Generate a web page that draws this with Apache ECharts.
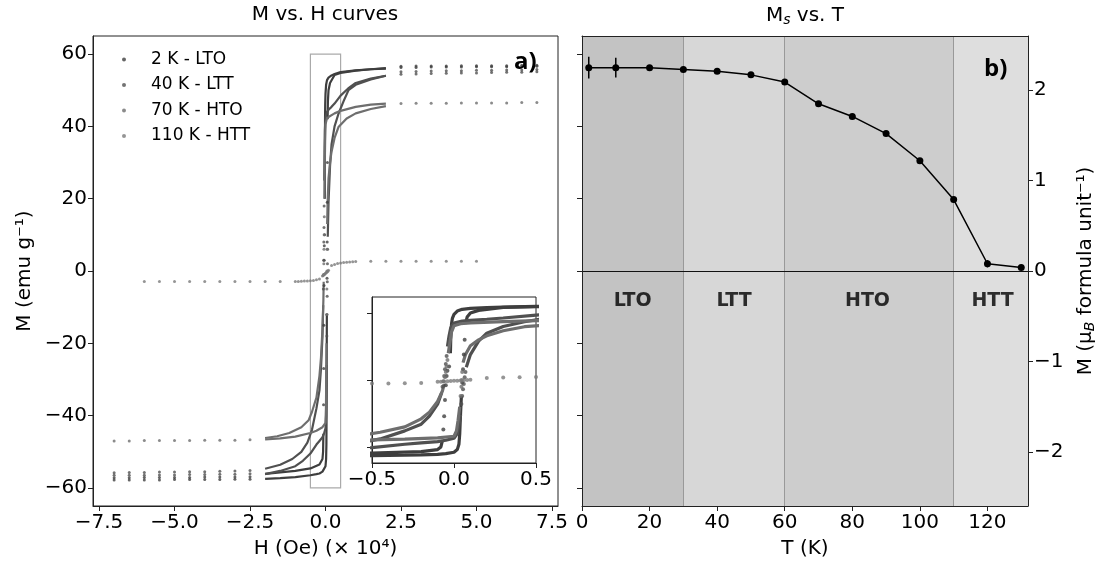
<!DOCTYPE html>
<html><head><meta charset="utf-8">
<script src="https://cdn.jsdelivr.net/npm/echarts@6/dist/echarts.min.js"></script>
<style>html,body{margin:0;padding:0;background:#fff}#c{width:1115px;height:564px}</style>
</head><body><div id="c"></div>
<script>
// ---------------- data ----------------
const hTicks = [-7.5, -5, -2.5, 0, 2.5, 5, 7.5];
const mTicks = [-60, -40, -20, 0, 20, 40, 60];
const insetHTicks = [-0.5, 0, 0.5];
const insetMTicks = [-50, 0, 50];
const tTicks = [0, 20, 40, 60, 80, 100, 120];
const muTicks = [-2, -1, 0, 1, 2];

const names = ['2 K - LTO', '40 K - LTT', '70 K - HTO', '110 K - HTT'];

// 2 K
const k2Desc = [[2,56.0],[1.5,55.8],[1.0,55.5],[0.5,55.0],[0.3,54.5],[0.2,54.1],[0.1,53.5],[0.05,52.8],[0.02,51.5],[0.0,49.0],[-0.01,46.0],[-0.015,42.0],[-0.02,30.0],[-0.022,20.0]];
const k2DescTail = [[-0.07,-45],[-0.08,-50],[-0.1,-52],[-0.2,-53.5],[-0.5,-54.6],[-1.0,-55.3],[-1.5,-55.7],[-2.0,-56.1]];
const k2Asc = [[-2,-57.5],[-1.5,-57.3],[-1,-57.0],[-0.5,-56.5],[-0.3,-56.2],[-0.2,-56.0],[-0.1,-55.5],[-0.05,-55.0],[0,-54.0],[0.02,-52.0],[0.03,-48.0],[0.035,-40.0],[0.04,-25.0],[0.045,-12.0]];
const k2AscTail = [[0.07,42],[0.08,47],[0.1,50],[0.15,52],[0.3,54.2],[0.5,54.8],[1,55.4],[1.5,55.8],[2,56.1]];
const k2Points = [[-0.03,10],[-0.04,7],[-0.045,3],[-0.05,-4],[-0.055,-15],[-0.06,-27],[-0.065,-37],[0.05,-2],[0.055,8],[0.06,19],[0.065,30],
  [2.5,56.3],[3,56.3],[3.5,56.4],[4,56.4],[4.5,56.4],[5,56.5],[5.5,56.5],[6,56.5],[6.5,56.5],[7,56.6],
  [2.5,56.6],[3,56.7],[3.5,56.7],[4,56.7],[4.5,56.8],[5,56.8],[5.5,56.8],[6,56.8],[6.5,56.9],[7,56.9],
  [-2.5,-56.9],[-3,-57.0],[-3.5,-57.0],[-4,-57.0],[-4.5,-57.1],[-5,-57.1],[-5.5,-57.1],[-6,-57.1],[-6.5,-57.2],[-7,-57.2],
  [-2.5,-57.6],[-3,-57.6],[-3.5,-57.7],[-4,-57.7],[-4.5,-57.7],[-5,-57.7],[-5.5,-57.8],[-6,-57.8],[-6.5,-57.8],[-7,-57.8]];

// 40 K
const k40Desc = [[2,54.0],[1.5,53.2],[1,52.0],[0.75,50.5],[0.5,48.5],[0.3,46.3],[0.2,45.4],[0.1,44.6],[0.05,44.0],[0,42.5],[-0.02,39],[-0.03,33],[-0.04,25]];
const k40DescTail = [[-0.075,-9.5],[-0.1,-18],[-0.15,-27],[-0.2,-33],[-0.3,-38],[-0.45,-44],[-0.6,-47.5],[-0.8,-50],[-1.1,-52],[-1.5,-53.6],[-2,-54.7]];
const k40Asc = [[-2,-56.2],[-1.5,-55.3],[-1,-54.0],[-0.75,-52.5],[-0.5,-50.5],[-0.3,-48.0],[-0.2,-47.0],[-0.1,-46.0],[-0.05,-45.0],[0,-43.5],[0.02,-40],[0.03,-34],[0.04,-26]];
const k40AscTail = [[0.075,9.5],[0.1,19],[0.15,29],[0.2,35],[0.3,40],[0.43,43.5],[0.6,47],[0.76,50],[1,51.5],[1.5,53],[2,54]];
const k40Points = [[-0.045,18],[-0.05,12],[-0.055,8],[-0.06,3],[-0.065,-1],[-0.07,-5],[0.045,-18],[0.05,-12],[0.055,-7],[0.06,-3],[0.065,2],[0.07,6],
  [2.5,54.4],[3,54.5],[3.5,54.6],[4,54.7],[4.5,54.8],[5,54.8],[5.5,54.9],[6,55.0],[6.5,55.0],[7,55.1],
  [2.5,55.1],[3,55.2],[3.5,55.3],[4,55.4],[4.5,55.4],[5,55.5],[5.5,55.5],[6,55.6],[6.5,55.6],[7,55.7],
  [-2.5,-55.2],[-3,-55.3],[-3.5,-55.4],[-4,-55.5],[-4.5,-55.5],[-5,-55.6],[-5.5,-55.6],[-6,-55.7],[-6.5,-55.7],[-7,-55.8],
  [-2.5,-56.1],[-3,-56.2],[-3.5,-56.2],[-4,-56.3],[-4.5,-56.3],[-5,-56.4],[-5.5,-56.4],[-6,-56.5],[-6.5,-56.5],[-7,-56.5]];

// 70 K
const k70Desc = [[2,46.3],[1.5,46.0],[1,45.4],[0.5,44.3],[0.3,43.6],[0.1,42.6],[0.04,42.0],[0,40.5],[-0.015,36],[-0.025,28],[-0.035,20]];
const k70DescTail = [[-0.06,-3],[-0.07,-8],[-0.1,-16],[-0.15,-24],[-0.2,-29],[-0.3,-35],[-0.45,-39],[-0.56,-41.3],[-0.8,-43.2],[-1.2,-44.8],[-1.6,-45.7],[-2,-46.2]];
const k70Asc = [[-2,-46.6],[-1.5,-46.3],[-1,-45.8],[-0.5,-44.8],[-0.3,-44.2],[-0.1,-43.2],[0,-42],[0.015,-38],[0.025,-30],[0.035,-20]];
const k70AscTail = [[0.055,13],[0.07,19],[0.1,25.6],[0.15,30],[0.2,33],[0.3,36.8],[0.43,39.8],[0.7,42.2],[1,43.6],[1.5,44.8],[2,45.6]];
const k70Points = [[-0.04,15],[-0.045,10],[-0.05,6],[-0.055,2],[0.04,-12],[0.045,-5],[0.048,0],[0.05,6],
  [2.5,46.3],[3,46.4],[3.5,46.4],[4,46.4],[4.5,46.5],[5,46.5],[5.5,46.5],[6,46.5],[6.5,46.6],[7,46.6],
  [-2.5,-46.7],[-3,-46.8],[-3.5,-46.8],[-4,-46.8],[-4.5,-46.9],[-5,-46.9],[-5.5,-46.9],[-6,-46.9],[-6.5,-47.0],[-7,-47.0]];

// 110 K
const k110Points = [[-6,-2.9],[-5.5,-2.9],[-5,-2.9],[-4.5,-2.9],[-4,-2.9],[-3.5,-2.9],[-3,-2.9],[-2.5,-2.9],[-2,-2.9],[-1.5,-2.9],
  [-1,-2.9],[-0.9,-2.9],[-0.8,-2.85],[-0.7,-2.8],[-0.6,-2.75],[-0.5,-2.7],[-0.4,-2.6],[-0.3,-2.45],[-0.2,-2.2],
  [-0.1,-1.4],[-0.08,-1.25],[-0.06,-1.1],[-0.04,-0.95],[-0.02,-0.8],[0,-0.65],[0.02,-0.5],[0.04,-0.35],[0.06,-0.2],[0.08,0],[0.1,0.2],
  [0.2,1.5],[0.3,1.8],[0.4,2.05],[0.5,2.2],[0.6,2.35],[0.7,2.45],[0.8,2.5],[0.9,2.55],[1,2.6],
  [1.5,2.7],[2,2.7],[2.5,2.7],[3,2.7],[3.5,2.7],[4,2.7],[4.5,2.7],[5,2.7]];

const zoomBox = [-0.5, 0.5, -60, 60];

// Ms vs T
const temps = [2, 10, 20, 30, 40, 50, 60, 70, 80, 90, 100, 110, 120, 130];
const msVals = [2.25, 2.25, 2.25, 2.23, 2.21, 2.17, 2.09, 1.85, 1.71, 1.52, 1.22, 0.79, 0.08, 0.04];
const msErr = [0.12, 0.11, 0.02, 0.02, 0.02, 0.02, 0.02, 0.02, 0.02, 0.02, 0.02, 0.02, 0.04, 0.03];

const phaseNames = ['LTO', 'LTT', 'HTO', 'HTT'];
const phaseBounds = [0, 30, 60, 110, 132];
const phaseLabelT = [15, 45, 84.5, 121.5];
const phaseLabelM = -0.33;

// ---------------- styles ----------------
const FONT = 'DejaVu Sans';
const colors = ['#3e3e3e', '#505050', '#6e6e6e', '#7a7a7a'];
const phaseColors = ['#c3c3c3', '#d7d7d7', '#cdcdcd', '#dedede'];
const AX = '#222';

const fmt1 = v => (v < 0 ? '\u2212' : '') + Math.abs(v).toFixed(1);
const fmt0 = v => (v < 0 ? '\u2212' : '') + Math.abs(v);

const loops = [
  {lines: [k2Desc, k2DescTail, k2Asc, k2AscTail], pts: k2Points},
  {lines: [k40Desc, k40DescTail, k40Asc, k40AscTail], pts: k40Points},
  {lines: [k70Desc, k70DescTail, k70Asc, k70AscTail], pts: k70Points},
  {lines: [], pts: k110Points}
];

const series = [];
[[0, 0, 2.2, 3], [3, 3, 3.2, 4]].forEach(([xi, yi, lw, ss]) => {
  loops.forEach((lp, i) => {
    series.push({name: names[i], type: 'scatter', xAxisIndex: xi, yAxisIndex: yi, data: lp.pts,
      symbolSize: ss, itemStyle: {color: colors[i]}, z: 3, clip: true});
    lp.lines.forEach(d => series.push({name: names[i], type: 'line', xAxisIndex: xi, yAxisIndex: yi, data: d,
      showSymbol: false, symbol: 'circle', lineStyle: {color: colors[i], width: lw}, itemStyle: {color: colors[i]}, z: 3, clip: true}));
  });
});

// zoom rectangle
series.push({type: 'line', xAxisIndex: 0, yAxisIndex: 0, data: [], z: 1,
  markArea: {silent: true, itemStyle: {color: 'rgba(0,0,0,0)', borderColor: '#aaa', borderWidth: 1.2},
    data: [[{coord: [zoomBox[0], zoomBox[2]]}, {coord: [zoomBox[1], zoomBox[3]]}]]}});

// phase bands + labels
series.push({type: 'scatter', xAxisIndex: 1, yAxisIndex: 2, z: 1, symbolSize: 0,
  data: phaseNames.map((n, i) => ({value: [phaseLabelT[i], phaseLabelM], name: n})),
  label: {show: true, formatter: p => p.name, position: 'inside', fontFamily: FONT, fontWeight: 'bold', fontSize: 19, color: '#000'},
  markArea: {silent: true, data: phaseNames.map((n, i) => [{xAxis: phaseBounds[i], itemStyle: {color: phaseColors[i]}}, {xAxis: phaseBounds[i + 1]}])},
  markLine: {silent: true, symbol: 'none', label: {show: false},
    data: [
      {xAxis: phaseBounds[1], lineStyle: {color: '#999', width: 1, type: 'solid'}},
      {xAxis: phaseBounds[2], lineStyle: {color: '#999', width: 1, type: 'solid'}},
      {xAxis: phaseBounds[3], lineStyle: {color: '#999', width: 1, type: 'solid'}},
      {yAxis: 0, lineStyle: {color: '#111', width: 1.2, type: 'solid'}}
    ]}
});

// error bars
series.push({type: 'custom', xAxisIndex: 1, yAxisIndex: 2, z: 4,
  data: temps.map((t, i) => [t, msVals[i], msErr[i]]),
  renderItem: (params, api) => {
    const x = api.value(0), y = api.value(1), e = api.value(2);
    const a = api.coord([x, y + e]), b = api.coord([x, y - e]);
    return {type: 'line', shape: {x1: a[0], y1: a[1], x2: b[0], y2: b[1]}, style: {stroke: '#000', lineWidth: 1.5}};
  }});
// Ms line
series.push({type: 'line', xAxisIndex: 1, yAxisIndex: 2, z: 5,
  data: temps.map((t, i) => [t, msVals[i]]),
  symbol: 'circle', symbolSize: 7, showSymbol: true,
  lineStyle: {color: '#000', width: 1.5}, itemStyle: {color: '#000'}});

const tickStyle = {lineStyle: {color: AX, width: 1}, length: 5};
const labelStyle = {fontFamily: FONT, fontSize: 20, color: '#000'};
const axLine = {show: true, onZero: false, lineStyle: {color: AX}};

const option = {
  animation: false,
  backgroundColor: '#fff',
  textStyle: {fontFamily: FONT},
  title: [
    {text: 'M vs. H curves', left: 325, top: 5, textAlign: 'center', padding: 0,
      textStyle: {fontFamily: FONT, fontSize: 20, fontWeight: 'normal', color: '#000'}},
    {text: '{m|M}{s|s}{m| vs. T}', left: 805, top: 5, textAlign: 'center', padding: 0,
      textStyle: {fontWeight: 'normal', rich: {m: {fontFamily: FONT, fontSize: 20, fontWeight: 'normal', color: '#000'},
        s: {fontFamily: FONT, fontSize: 14, fontWeight: 'normal', fontStyle: 'italic', color: '#000', verticalAlign: 'bottom', padding: [8, 0, 0, 0]}}}},
    {text: 'a)', left: 514, top: 50, padding: 0, textStyle: {fontFamily: 'Open Sans', fontSize: 24, fontWeight: 'bold', color: '#000'}},
    {text: 'b)', left: 984, top: 57, padding: 0, textStyle: {fontFamily: 'Open Sans', fontSize: 24, fontWeight: 'bold', color: '#000'}}
  ],
  legend: {
    data: names.map(n => ({name: n, icon: 'circle'})),
    orient: 'vertical', left: 117, top: 46, itemWidth: 44, itemHeight: 4, itemGap: 8.5,
    selectedMode: false, textStyle: {fontFamily: FONT, fontSize: 17, color: '#000'}
  },
  grid: [
    {left: 93, top: 36, width: 465, height: 475, show: true, borderColor: AX, borderWidth: 1, backgroundColor: '#fff'},
    {left: 582, top: 36, width: 446, height: 475},
    {left: 372, top: 297, width: 164, height: 166, show: true, borderColor: AX, borderWidth: 1, backgroundColor: '#fff'}
  ],
  xAxis: [
    {gridIndex: 0, type: 'value', min: -7.7, max: 7.7, splitLine: {show: false},
      axisLine: axLine, axisTick: Object.assign({customValues: hTicks}, tickStyle),
      axisLabel: Object.assign({customValues: hTicks, formatter: fmt1, margin: 7}, labelStyle),
      name: 'H (Oe) (\u00d7 10\u2074)', nameLocation: 'middle', nameGap: 33, nameTextStyle: labelStyle},
    {gridIndex: 1, type: 'value', min: 0, max: 132, splitLine: {show: false}, z: 10,
      axisLine: axLine, axisTick: Object.assign({customValues: tTicks}, tickStyle),
      axisLabel: Object.assign({customValues: tTicks, formatter: fmt0, margin: 7}, labelStyle),
      name: 'T (K)', nameLocation: 'middle', nameGap: 33, nameTextStyle: labelStyle},
    {gridIndex: 1, type: 'value', position: 'top', min: 0, max: 132, splitLine: {show: false}, z: 10,
      axisLine: axLine, axisTick: {show: false}, axisLabel: {show: false}},
    {gridIndex: 2, type: 'value', min: -0.5, max: 0.5, splitLine: {show: false},
      axisLine: axLine, axisTick: Object.assign({customValues: insetHTicks}, tickStyle),
      axisLabel: Object.assign({customValues: insetHTicks, formatter: fmt1, margin: 7}, labelStyle)}
  ],
  yAxis: [
    {gridIndex: 0, type: 'value', min: -65, max: 65, splitLine: {show: false},
      axisLine: axLine, axisTick: Object.assign({customValues: mTicks}, tickStyle),
      axisLabel: Object.assign({customValues: mTicks, formatter: fmt0, margin: 6}, labelStyle),
      name: 'M (emu g\u207b\u00b9)', nameLocation: 'middle', nameGap: 58, nameRotate: 90, nameTextStyle: labelStyle},
    {gridIndex: 1, type: 'value', position: 'left', min: -65, max: 65, splitLine: {show: false}, z: 10,
      axisLine: axLine, axisTick: Object.assign({customValues: mTicks}, tickStyle),
      axisLabel: {show: false}},
    {gridIndex: 1, type: 'value', position: 'right', min: -2.6, max: 2.6, splitLine: {show: false}, z: 10,
      axisLine: axLine, axisTick: Object.assign({customValues: muTicks}, tickStyle),
      axisLabel: Object.assign({customValues: muTicks, formatter: fmt0, margin: 6}, labelStyle),
      name: 'M (\u03bc{b|B} formula unit\u207b\u00b9)', nameLocation: 'middle', nameGap: 47, nameRotate: 90,
      nameTextStyle: Object.assign({rich: {b: {fontFamily: FONT, fontSize: 14, fontStyle: 'italic', color: '#000', verticalAlign: 'bottom', padding: [8, 0, 0, 0]}}}, labelStyle)},
    {gridIndex: 2, type: 'value', min: -62, max: 62, splitLine: {show: false},
      axisLine: axLine, axisTick: Object.assign({customValues: insetMTicks}, tickStyle),
      axisLabel: {show: false}}
  ],
  series: series
};

const chart = echarts.init(document.getElementById('c'), null, {renderer: 'canvas'});
chart.setOption(option);
</script></body></html>
